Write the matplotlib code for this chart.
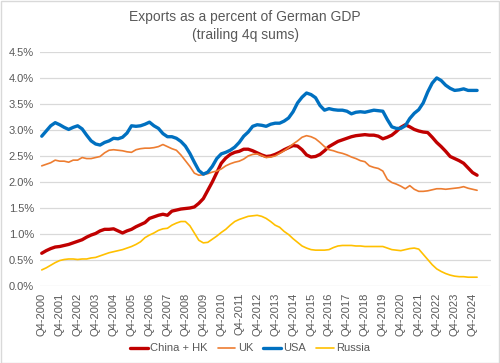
import matplotlib
matplotlib.use("Agg")
import matplotlib.pyplot as plt
from matplotlib.patches import Rectangle
from matplotlib.ticker import PercentFormatter

# quarterly, Q4-2000 .. Q1-2025, exports as % of German GDP
china_hk = [
    0.63, 0.68, 0.72, 0.75, 0.76, 0.78, 0.80, 0.83, 0.86, 0.89,
    0.94, 0.98, 1.01, 1.06, 1.09, 1.09, 1.10, 1.06, 1.02, 1.06,
    1.09, 1.14, 1.18, 1.22, 1.30, 1.33, 1.36, 1.38, 1.36, 1.44,
    1.46, 1.48, 1.49, 1.50, 1.52, 1.59, 1.68, 1.84, 2.00, 2.18,
    2.36, 2.46, 2.53, 2.57, 2.59, 2.63, 2.63, 2.60, 2.56, 2.52,
    2.49, 2.50, 2.53, 2.57, 2.62, 2.66, 2.70, 2.69, 2.62, 2.52,
    2.48, 2.49, 2.53, 2.60, 2.68, 2.73, 2.78, 2.81, 2.84, 2.87,
    2.89, 2.90, 2.91, 2.90, 2.90, 2.88, 2.83, 2.86, 2.90, 2.97,
    3.05, 3.10, 3.06, 3.01, 2.98, 2.96, 2.95, 2.86, 2.76, 2.68,
    2.59, 2.49, 2.45, 2.41, 2.36, 2.27, 2.18, 2.13,
]
uk = [
    2.31, 2.34, 2.37, 2.42, 2.40, 2.40, 2.38, 2.42, 2.42, 2.47,
    2.45, 2.45, 2.47, 2.49, 2.56, 2.61, 2.62, 2.61, 2.60, 2.58,
    2.57, 2.62, 2.64, 2.65, 2.65, 2.66, 2.68, 2.72, 2.68, 2.64,
    2.61, 2.52, 2.41, 2.30, 2.17, 2.13, 2.14, 2.16, 2.19, 2.21,
    2.25, 2.31, 2.35, 2.38, 2.40, 2.44, 2.50, 2.53, 2.54, 2.51,
    2.47, 2.48, 2.50, 2.55, 2.60, 2.66, 2.73, 2.79, 2.86, 2.89,
    2.87, 2.83, 2.76, 2.68, 2.62, 2.60, 2.57, 2.55, 2.52, 2.48,
    2.45, 2.41, 2.39, 2.31, 2.28, 2.26, 2.21, 2.05, 1.99, 1.96,
    1.92, 1.87, 1.93, 1.86, 1.82, 1.82, 1.83, 1.85, 1.87, 1.87,
    1.86, 1.87, 1.88, 1.89, 1.91, 1.88, 1.86, 1.84,
]
usa = [
    2.88, 2.98, 3.08, 3.14, 3.10, 3.05, 3.01, 3.05, 3.08, 3.02,
    2.90, 2.79, 2.73, 2.71, 2.76, 2.79, 2.84, 2.83, 2.86, 2.94,
    3.08, 3.07, 3.08, 3.11, 3.15, 3.08, 3.03, 2.93, 2.87, 2.87,
    2.84, 2.78, 2.69, 2.55, 2.38, 2.22, 2.15, 2.19, 2.30, 2.45,
    2.54, 2.57, 2.61, 2.67, 2.76, 2.88, 2.96, 3.07, 3.10, 3.09,
    3.07, 3.11, 3.13, 3.13, 3.17, 3.23, 3.35, 3.52, 3.63, 3.71,
    3.68, 3.62, 3.47, 3.38, 3.41, 3.39, 3.38, 3.38, 3.36, 3.31,
    3.34, 3.35, 3.34, 3.36, 3.38, 3.37, 3.36, 3.20, 3.06, 3.03,
    3.03, 3.08, 3.22, 3.32, 3.39, 3.52, 3.73, 3.90, 4.00, 3.95,
    3.86, 3.80, 3.76, 3.77, 3.79, 3.76, 3.76, 3.76,
]
russia = [
    0.31, 0.35, 0.40, 0.45, 0.49, 0.51, 0.52, 0.52, 0.51, 0.52,
    0.52, 0.54, 0.55, 0.58, 0.61, 0.64, 0.66, 0.68, 0.70, 0.73,
    0.76, 0.80, 0.85, 0.93, 0.98, 1.02, 1.07, 1.10, 1.11, 1.17,
    1.21, 1.24, 1.24, 1.16, 1.02, 0.88, 0.83, 0.84, 0.90, 0.96,
    1.03, 1.09, 1.17, 1.24, 1.28, 1.31, 1.34, 1.35, 1.36, 1.34,
    1.30, 1.24, 1.17, 1.13, 1.05, 0.99, 0.91, 0.84, 0.77, 0.73,
    0.70, 0.69, 0.69, 0.69, 0.70, 0.74, 0.77, 0.78, 0.78, 0.78,
    0.77, 0.77, 0.76, 0.76, 0.76, 0.76, 0.76, 0.73, 0.70, 0.69,
    0.68, 0.70, 0.72, 0.73, 0.71, 0.61, 0.51, 0.41, 0.33, 0.28,
    0.24, 0.21, 0.19, 0.18, 0.18, 0.17, 0.17, 0.17,
]
tick_labels = [f"Q4-{y}" for y in range(2000, 2025)]

TEXT = '#595959'
GRID = '#D9D9D9'

plt.rcParams['font.family'] = ['Liberation Sans', 'DejaVu Sans']

fig = plt.figure(figsize=(5, 3.63), dpi=100)
ax = fig.add_axes([0.079, 0.212, 0.903, 0.645])

x = list(range(len(usa)))
series = [
    ('China + HK', china_hk, '#C00000', 2.4),
    ('UK', uk, '#ED7D31', 1.2),
    ('USA', usa, '#0070C0', 2.4),
    ('Russia', russia, '#FFC000', 1.2),
]
for name, vals, color, lw in series:
    ax.plot(x, vals, color=color, lw=lw, label=name, solid_capstyle='round')

ax.set_ylim(0, 4.5)
ax.set_yticks([i * 0.5 for i in range(10)])
ax.yaxis.set_major_formatter(PercentFormatter(decimals=1))
ax.set_xlim(-0.5, 100.1)
ax.set_xticks(list(range(0, len(usa), 4)))
ax.set_xticklabels(tick_labels, rotation=90)
ax.tick_params(length=0, labelsize=8, colors=TEXT, pad=4)
ax.tick_params(axis='x', pad=5)
ax.grid(axis='y', color=GRID, lw=0.9)
ax.set_axisbelow(True)
for s in ax.spines.values():
    s.set_visible(False)

fig.text(0.49, 0.928, 'Exports as a percent of German GDP\n(trailing 4q sums)',
         ha='center', va='center', fontsize=10, color=TEXT, linespacing=1.4)

fig.legend(loc='center', bbox_to_anchor=(0.5, 0.04), ncol=4, frameon=False,
           fontsize=8, handlelength=1.6, handletextpad=0.2, columnspacing=0.9,
           labelcolor=TEXT)

fig.patches.append(Rectangle((0.001, 0.001), 0.997, 0.997, transform=fig.transFigure,
                             fill=False, edgecolor=GRID, lw=1))

fig.savefig('out.png', dpi=100)
